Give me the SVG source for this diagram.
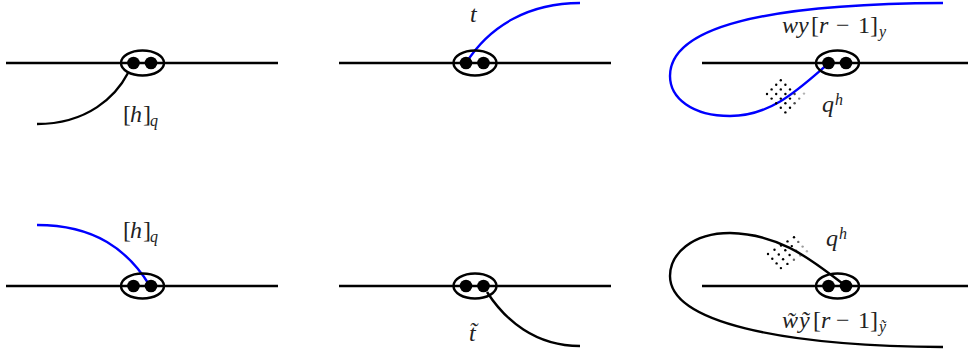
<svg xmlns="http://www.w3.org/2000/svg" width="968" height="352" viewBox="0 0 968 352">
<style>
.base{stroke:#000;stroke-width:2.4;fill:none}
.ell{stroke:#000;stroke-width:2.4;fill:none}
.dot{fill:#000}
.blk{stroke:#000;stroke-width:2.4;fill:none}
.blu{stroke:#0000ff;stroke-width:2.4;fill:none}
.t{fill:#222;font-size:24px;font-family:"Liberation Serif","Times New Roman",serif}
.it{font-style:italic}
.sub{font-size:16px;font-style:italic}
.pd{fill:#000}
</style>
<defs>
<g id="pair">
<ellipse cx="0" cy="0" rx="21.5" ry="12.5" class="ell"/>
<circle cx="-9" cy="0" r="6.3" class="dot"/>
<circle cx="8.5" cy="0" r="6.3" class="dot"/>
</g>
</defs>

<g id="baselines">
<line x1="6" y1="63" x2="278" y2="63" class="base"/>
<line x1="339" y1="63" x2="611" y2="63" class="base"/>
<line x1="702" y1="63" x2="968" y2="63" class="base"/>
<line x1="6" y1="286" x2="278" y2="286" class="base"/>
<line x1="339" y1="286" x2="611" y2="286" class="base"/>
<line x1="702" y1="286" x2="968" y2="286" class="base"/>
</g>

<g id="connectors">
<path d="M128,73 C116,96 88,124 37,124" class="blk"/>
<path d="M466,63 C490,25 530,3 580,3" class="blu"/>
<path d="M829,63 C800,88 772,116 730,116 C692,116 670,98 670,76 C670,28 760,4 943,3" class="blu"/>
<path d="M150,286 C128,250 95,225 37,225" class="blu"/>
<path d="M487,292 C505,320 535,346 580,346" class="blk"/>
<path d="M846,286 C818,266 785,234 730,233 C692,233 670,254 670,276 C670,322 780,346 943,347" class="blk"/>
</g>

<g id="node-tl"><use href="#pair" x="142.5" y="63"/></g>
<g id="node-tm"><use href="#pair" x="475" y="63"/></g>
<g id="node-tr"><use href="#pair" x="837.5" y="63"/></g>
<g id="node-bl"><use href="#pair" x="142.5" y="286"/></g>
<g id="node-bm"><use href="#pair" x="475" y="286"/></g>
<g id="node-br"><use href="#pair" x="837.5" y="286"/></g>

<g id="hatch-top" class="pd">
<circle cx="767" cy="94" r="1.2"/><circle cx="771.6" cy="98.6" r="1.2"/><circle cx="776.2" cy="103.2" r="1.2"/><circle cx="780.8" cy="107.8" r="1.2"/><circle cx="785.4" cy="112.4" r="1.2"/>
<circle cx="771.6" cy="89.4" r="1.2"/><circle cx="776.2" cy="94" r="1.2"/><circle cx="780.8" cy="98.6" r="1.2"/><circle cx="785.4" cy="103.2" r="1.2"/><circle cx="790" cy="107.8" r="1.2"/>
<circle cx="776.2" cy="84.8" r="1.2"/><circle cx="780.8" cy="89.4" r="1.2"/><circle cx="785.4" cy="94" r="1.2"/><circle cx="790" cy="98.6" r="1.2"/><circle cx="794.6" cy="103.2" r="1.2" opacity="0.7"/>
<circle cx="780.8" cy="80.2" r="1.2"/><circle cx="785.4" cy="84.8" r="1.2"/><circle cx="790" cy="89.4" r="1.2"/><circle cx="794.6" cy="94" r="1.2" opacity="0.7"/><circle cx="799.2" cy="98.6" r="1.2" opacity="0.5"/>
<circle cx="804" cy="93.6" r="1.2" opacity="0.3"/>
</g>

<g id="hatch-bot" class="pd">
<circle cx="768" cy="254" r="1.2"/><circle cx="772.3" cy="258.7" r="1.2"/><circle cx="776.6" cy="263.4" r="1.2"/><circle cx="780.9" cy="268.1" r="1.2"/>
<circle cx="774.5" cy="249.8" r="1.2"/><circle cx="778.8" cy="254.5" r="1.2"/><circle cx="783.1" cy="259.2" r="1.2"/><circle cx="787.4" cy="263.9" r="1.2"/>
<circle cx="781" cy="245.6" r="1.2"/><circle cx="785.3" cy="250.3" r="1.2"/><circle cx="789.6" cy="255" r="1.2"/><circle cx="793.9" cy="259.7" r="1.2" opacity="0.6"/>
<circle cx="787.5" cy="241.4" r="1.2"/><circle cx="791.8" cy="246.1" r="1.2"/><circle cx="796.1" cy="250.8" r="1.2" opacity="0.6"/><circle cx="800.4" cy="255.5" r="1.2" opacity="0.4"/>
<circle cx="794" cy="237.2" r="1.2"/><circle cx="798.3" cy="241.9" r="1.2" opacity="0.6"/><circle cx="802.6" cy="246.6" r="1.2" opacity="0.4"/><circle cx="806.9" cy="251.3" r="1.2" opacity="0.3"/>
</g>

<g id="labels">
<text class="t" x="123" y="122">[<tspan class="it" x="130">h</tspan><tspan x="143">]</tspan><tspan class="sub" x="150" y="126">q</tspan></text>
<text class="t it" x="470" y="22">t</text>
<text class="t" y="33"><tspan class="it" x="782">w</tspan><tspan class="it" x="798">y</tspan><tspan x="811">[</tspan><tspan class="it" x="819">r</tspan><tspan x="836">−</tspan><tspan x="858">1</tspan><tspan x="870">]</tspan><tspan class="sub" x="879" y="37">y</tspan></text>
<text class="t" x="822" y="112"><tspan class="it">q</tspan><tspan class="sub" x="835" y="105">h</tspan></text>
<text class="t" x="123" y="238">[<tspan class="it" x="130">h</tspan><tspan x="143">]</tspan><tspan class="sub" x="150" y="242">q</tspan></text>
<text class="t it" x="469" y="341">t̃</text>
<text class="t" x="826" y="246"><tspan class="it">q</tspan><tspan class="sub" x="839" y="239">h</tspan></text>
<text class="t" y="328"><tspan class="it" x="782">w̃</tspan><tspan class="it" x="799">ỹ</tspan><tspan x="813">[</tspan><tspan class="it" x="821">r</tspan><tspan x="836">−</tspan><tspan x="858">1</tspan><tspan x="870">]</tspan><tspan class="sub" x="879" y="332">ỹ</tspan></text>
</g>
</svg>
